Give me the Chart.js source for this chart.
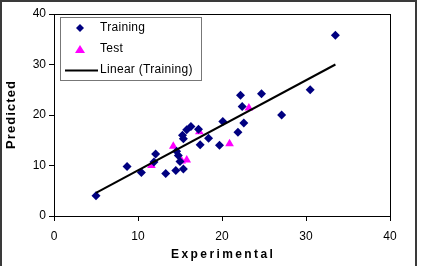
<!DOCTYPE html>
<html>
<head>
<meta charset="utf-8">
<script src="https://cdn.jsdelivr.net/npm/chart.js@4"></script>
<style>
  body { margin: 0; background: #fff; }
  #wrap { position: relative; width: 421px; height: 266px; }
  #frame { position: absolute; left: 0; top: 0; width: 413px; height: 270px;
           border: 2px solid #3a3a3a; border-bottom: none; }
  canvas { position: absolute; left: 0; top: 0; }
</style>
</head>
<body>
<div id="wrap">
  <div id="frame"></div>
  <canvas id="scatterChart" width="421" height="266"></canvas>
</div>
<script>
// Training set: experimental vs predicted
const trainX = [5.0, 8.7, 10.4, 12.1, 11.9, 13.3, 14.5, 15.4, 14.6, 14.8, 15.0, 15.3, 15.4, 15.8,
                16.3, 17.2, 17.4, 18.4, 19.7, 20.1, 21.9, 22.2, 22.4, 22.6, 24.7, 27.1, 30.5, 33.5];
const trainY = [4.0, 9.8, 8.6, 12.3, 10.7, 8.4, 9.0, 9.3, 12.8, 12.0, 10.8, 16.0, 15.3, 17.1,
                17.7, 17.2, 14.1, 15.4, 14.0, 18.7, 16.6, 23.9, 21.7, 18.4, 24.2, 20.0, 25.0, 35.8];

// Test set
const testX = [11.6, 14.2, 15.2, 15.8, 17.3, 20.9, 23.2];
const testY = [10.0, 13.8, 10.9, 11.1, 16.7, 14.3, 21.4];

// Linear trend of training set (end points)
const trendX = [5.0, 33.5];
const trendY = [4.6, 30.0];

const axisTicks = [0, 10, 20, 30, 40];

const toPoints = (xs, ys) => xs.map((x, i) => ({ x: x, y: ys[i] }));
const spaced = (s, sp) => s.split('').join(sp);
const FONT = '"Liberation Sans", Arial, sans-serif';

// legend drawn inside the plot, like the original
const boxLegend = {
    id: 'boxLegend',
    afterDraw(chart) {
        const ctx = chart.ctx;
        const a = chart.chartArea;
        ctx.save();
        // plot frame (top + right too)
        ctx.strokeStyle = '#000';
        ctx.lineWidth = 1;
        ctx.strokeRect(Math.round(a.left) + 0.5, Math.round(a.top) + 0.5,
                       Math.round(a.right - a.left), Math.round(a.bottom - a.top));
        // legend box
        ctx.strokeStyle = '#777';
        ctx.strokeRect(60.5, 17.5, 141, 63);
        const labels = chart.data.datasets.map(d => d.label);
        // diamond
        ctx.fillStyle = '#000080';
        ctx.beginPath();
        ctx.moveTo(80, 24); ctx.lineTo(84, 28); ctx.lineTo(80, 32); ctx.lineTo(76, 28);
        ctx.closePath(); ctx.fill();
        // triangle
        ctx.fillStyle = '#ff00ff';
        ctx.beginPath();
        ctx.moveTo(80, 45); ctx.lineTo(85, 53); ctx.lineTo(75, 53);
        ctx.closePath(); ctx.fill();
        // line
        ctx.strokeStyle = '#000';
        ctx.lineWidth = 2;
        ctx.beginPath(); ctx.moveTo(65, 70.5); ctx.lineTo(98, 70.5); ctx.stroke();
        ctx.font = '12px ' + FONT;
        ctx.letterSpacing = '0.3px';
        ctx.fillStyle = '#000';
        ctx.textBaseline = 'middle';
        ctx.textAlign = 'left';
        ctx.fillText(labels[0], 100, 28);
        ctx.fillText(labels[1], 100, 49);
        ctx.fillText(labels[2], 100, 70);
        ctx.restore();
    }
};

new Chart(document.getElementById('scatterChart'), {
    type: 'scatter',
    data: {
        datasets: [
            { label: 'Training', data: toPoints(trainX, trainY), pointStyle: 'rectRot',
              pointRadius: 4.5, backgroundColor: '#000080', borderColor: '#000080', borderWidth: 0, order: 2 },
            { label: 'Test', data: toPoints(testX, testY), pointStyle: 'triangle',
              pointRadius: 5, backgroundColor: '#ff00ff', borderColor: '#ff00ff', borderWidth: 0, order: 3 },
            { label: 'Linear (Training)', data: toPoints(trendX, trendY), type: 'line', showLine: true,
              borderColor: '#000', borderWidth: 2, pointRadius: 0, fill: false, order: 1 }
        ]
    },
    options: {
        responsive: false,
        animation: false,
        layout: { padding: { left: 0, top: 14, right: 31, bottom: 0 } },
        plugins: { legend: { display: false }, tooltip: { enabled: false } },
        scales: {
            x: {
                type: 'linear', min: 0, max: 40,
                afterBuildTicks: s => { s.ticks = axisTicks.map(v => ({ value: v })); },
                afterFit: s => { s.height = 50; },
                grid: { drawOnChartArea: false, drawTicks: true, tickLength: 5, color: '#000' },
                border: { display: true, color: '#000' },
                ticks: { color: '#000', padding: 8, maxRotation: 0, font: { family: FONT, size: 12 } },
                title: { display: true, text: spaced('Experimental', '\u2009'), color: '#000',
                         padding: { top: 0 }, font: { family: FONT, size: 12, weight: 'bold' } }
            },
            y: {
                type: 'linear', min: 0, max: 40,
                afterBuildTicks: s => { s.ticks = axisTicks.map(v => ({ value: v })); },
                afterFit: s => { s.width = 54; },
                grid: { drawOnChartArea: false, drawTicks: true, tickLength: 5, color: '#000' },
                border: { display: true, color: '#000' },
                ticks: { color: '#000', padding: 3, font: { family: FONT, size: 12 } },
                title: { display: true, text: spaced('Predicted', '\u200A'), color: '#000',
                         padding: { bottom: 0 }, font: { family: FONT, size: 13, weight: 'bold' } }
            }
        }
    },
    plugins: [boxLegend]
});
</script>
</body>
</html>
